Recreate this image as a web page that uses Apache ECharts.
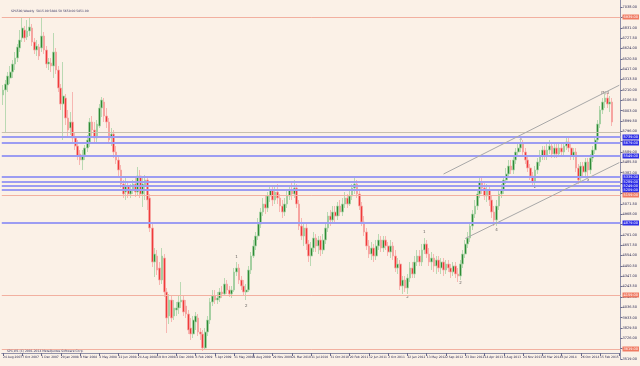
<!DOCTYPE html>
<html><head><meta charset="utf-8">
<script src="https://cdn.jsdelivr.net/npm/echarts@6/dist/echarts.min.js"></script>
<style>html,body{margin:0;padding:0;background:#fbf1e7}#c{width:640px;height:366px}</style>
</head><body><div id="c"></div>
<script>
const dateLabels = ["24 Aug 2007","7 Oct 2007","1 Dec 2007","20 Jan 2008","9 Mar 2008","4 May 2008","22 Jun 2008","24 Aug 2008","19 Oct 2008","4 Dec 2008","8 Feb 2009","5 Apr 2009","31 May 2009","9 Aug 2009","29 Nov 2009","21 Mar 2010","11 Jul 2010","31 Oct 2010","20 Feb 2011","12 Jun 2011","2 Oct 2011","22 Jan 2012","13 May 2012","2 Sep 2012","23 Dec 2012","14 Apr 2013","4 Aug 2013","24 Nov 2013","16 Mar 2014","6 Jul 2014","26 Oct 2014","15 Feb 2015"];
const barsPerLabel = 8;
const totalSlots = 257;

const open = [
6159,6209,6259,6329,6389,6469,6529,6629,6729,6809,
6739,6799,6829,6689,6609,6639,6629,6749,6609,6469,
6479,6449,6589,6409,6229,6069,6129,5929,5829,5889,
5729,5649,5569,5509,5559,5629,5689,5889,5809,5729,
5849,6029,6089,5949,5889,5729,5769,5589,5509,5409,
5269,5189,5249,5169,5209,5269,5189,5349,5169,5249,
5309,5129,4829,4489,4549,4429,4309,4529,4189,3949,
4109,3949,4009,4029,4089,4109,4049,3969,3829,3769,
3889,3929,3789,3769,3629,3789,3909,4089,4149,4109,
4129,4189,4169,4269,4209,4169,4209,4389,4429,4309,
4249,4189,4209,4409,4549,4649,4749,4869,4989,5069,
5029,5149,5209,5109,5189,5129,5049,4989,5069,5149,
5209,5169,5229,5069,4849,4749,4829,4669,4549,4629,
4729,4649,4709,4609,4709,4829,4949,4909,4989,4949,
5049,4989,5069,5129,5069,5149,5229,5269,5169,5049,
4889,4789,4649,4569,4629,4549,4649,4709,4629,4709,
4649,4589,4649,4549,4429,4469,4249,4309,4229,4329,
4429,4369,4489,4549,4489,4609,4669,4569,4489,4529,
4449,4509,4429,4489,4409,4469,4429,4389,4449,4369,
4349,4469,4569,4669,4729,4849,4969,5049,5169,5289,
5229,5149,5209,5109,4989,4909,5049,5169,5209,5309,
5369,5449,5409,5509,5589,5629,5669,5589,5509,5429,
5349,5289,5409,5489,5549,5609,5549,5609,5649,5569,
5629,5569,5629,5589,5649,5689,5629,5549,5589,5429,
5329,5449,5389,5489,5409,5529,5609,5709,5869,6009,
6089,6129,6069,6089];
const close = [
6209,6269,6349,6389,6469,6529,6639,6709,6829,6729,
6799,6839,6689,6609,6649,6549,6749,6609,6469,6489,
6449,6589,6409,6229,6069,6149,5929,5809,5889,5729,
5649,5549,5509,5559,5629,5709,5889,5809,5729,5869,
6029,6109,5949,5889,5709,5769,5589,5509,5409,5269,
5169,5249,5169,5209,5269,5189,5349,5169,5269,5309,
5109,4829,4489,4569,4409,4309,4549,4189,3929,4109,
3929,4029,4029,4089,4109,3989,3969,3809,3769,3909,
3949,3789,3769,3629,3789,3909,4089,4149,4109,4129,
4189,4169,4269,4209,4169,4209,4389,4429,4309,4249,
4189,4209,4409,4549,4649,4749,4869,4989,5069,5029,
5149,5209,5109,5189,5129,5049,4989,5069,5149,5209,
5169,5229,5069,4849,4749,4829,4669,4549,4629,4729,
4649,4709,4609,4709,4829,4949,4909,4989,4949,5049,
4989,5069,5129,5069,5149,5229,5269,5169,5049,4889,
4789,4649,4569,4629,4549,4649,4709,4629,4709,4649,
4589,4649,4549,4429,4469,4249,4309,4229,4329,4429,
4369,4489,4549,4489,4609,4669,4569,4489,4529,4449,
4509,4429,4489,4409,4469,4429,4389,4449,4369,4349,
4469,4569,4669,4729,4849,4969,5049,5169,5289,5229,
5149,5209,5109,4989,4909,5049,5169,5209,5309,5369,
5449,5409,5509,5589,5629,5669,5589,5509,5429,5349,
5289,5409,5489,5549,5609,5549,5609,5649,5569,5629,
5569,5629,5589,5649,5689,5629,5549,5589,5429,5309,
5449,5389,5489,5409,5529,5609,5709,5869,6009,6089,
6129,6069,6089,5889];
const low = [
6059,5779,6189,6269,6329,6409,6489,6589,6689,6689,
6709,6749,6649,6569,6549,6509,6589,6569,6429,6409,
6389,6329,6369,6189,6009,5709,5859,5729,5759,5689,
5609,5509,5459,5409,5509,5589,5639,5749,5689,5689,
5829,5939,5889,5829,5669,5649,5529,5469,5349,5229,
5129,5109,5129,5129,5169,5139,5149,5129,5039,5109,
5009,4789,4439,4339,4359,4259,4269,4139,3779,3869,
3889,3909,3949,3969,4029,3949,3929,3769,3709,3729,
3809,3749,3709,3599,3609,3749,3869,4049,4069,4069,
4089,4129,4149,4169,4139,4129,4189,4349,4269,4209,
4149,4109,4189,4369,4529,4609,4709,4829,4949,4969,
4989,5089,5049,5069,5069,4989,4929,4949,5029,5109,
5109,5129,5029,4809,4709,4649,4609,4489,4449,4589,
4589,4569,4549,4569,4669,4789,4849,4869,4889,4909,
4949,4949,5029,5029,5049,5109,5169,5129,5009,4849,
4749,4609,4529,4509,4489,4509,4609,4589,4589,4609,
4549,4529,4509,4389,4369,4209,4169,4189,4169,4289,
4329,4329,4449,4449,4449,4569,4529,4449,4409,4389,
4369,4389,4369,4349,4369,4389,4329,4349,4329,4289,
4309,4429,4529,4629,4689,4809,4929,5009,5129,5169,
5109,5089,5049,4929,4849,4849,5009,5129,5169,5269,
5329,5369,5369,5469,5549,5589,5549,5469,5389,5309,
5249,5249,5369,5449,5509,5509,5509,5569,5529,5529,
5529,5549,5549,5549,5609,5589,5509,5509,5389,5269,
5289,5349,5349,5329,5369,5489,5569,5669,5829,5969,
6029,6029,5989,5849];
const high = [
6259,6309,6389,6449,6509,6589,6669,6809,6939,6849,
6909,6929,6869,6729,6709,6669,6929,6789,6649,6529,
6529,6779,6629,6449,6269,6489,6169,6009,5989,6189,
5789,5709,5609,5609,5659,5759,5929,5949,5889,5909,
6069,6139,6129,6029,5929,5829,5809,5649,5559,5459,
5309,5329,5289,5269,5309,5329,5439,5409,5349,5359,
5349,5169,4869,4629,4609,4489,4629,4569,4229,4169,
4149,4109,4089,4149,4289,4149,4109,4009,3929,3949,
3989,3969,3829,3809,3829,3949,4129,4209,4209,4189,
4229,4249,4329,4309,4249,4249,4429,4489,4469,4349,
4309,4269,4449,4589,4709,4789,4929,5029,5129,5149,
5189,5259,5249,5249,5269,5169,5109,5129,5209,5249,
5289,5309,5269,5109,4929,4889,4869,4709,4689,4789,
4769,4749,4749,4769,4889,4989,5009,5049,5049,5089,
5109,5129,5189,5169,5209,5269,5329,5309,5209,5089,
4949,4829,4709,4689,4669,4709,4769,4749,4749,4749,
4689,4709,4689,4609,4529,4509,4349,4349,4369,4489,
4489,4549,4609,4609,4669,4729,4709,4629,4589,4569,
4549,4549,4529,4529,4509,4509,4469,4489,4489,4429,
4509,4609,4709,4789,4889,5009,5109,5209,5349,5349,
5289,5269,5249,5149,5049,5109,5209,5269,5349,5429,
5509,5509,5549,5629,5689,5709,5709,5629,5549,5469,
5389,5449,5529,5609,5649,5649,5669,5709,5689,5669,
5669,5689,5669,5689,5729,5729,5669,5629,5629,5469,
5489,5489,5529,5529,5569,5649,5749,5909,6049,6129,
6169,6179,6149,6129];

const blueLevels = [5739,5679,5549,5339,5289,5249,5209,4879];
const redLevels = [6939,5159,4159,3619];
const grayLevels = [5789];
const upperTrend = [[183,5369],[256,6257]];
const lowerTrend = [[192,4724],[256,5483]];
const waveIdx  = [97,101,168,175,190,205,215,221,243,250];
const waveVal  = [4539,4049,4139,4789,4279,4809,5719,5239,5299,6179];
const waveText = ['1','2','2','1','2','4','3','2','4','(5)3'];

const titleText = 'SPX500,Weekly  5815.00 5888.50 5650.00 5851.00';
const footerText = 'SPX,W1 (C) 2001-2014 MetaQuotes Software Corp.';

const categories = [];
for (let i = 0; i < totalSlots; i++) {
  categories.push(i % barsPerLabel === 0 && dateLabels[i / barsPerLabel] ? dateLabels[i / barsPerLabel] : '');
}
const ohlc = open.map((o, i) => [o, close[i], low[i], high[i]]);

const FONT = 'DejaVu Sans';
const lvlLine = (v, color, bg, withLabel) => ({
  yAxis: v,
  lineStyle: {color: color, width: 2, type: 'solid'},
  label: withLabel ? {show: true, position: 'end', distance: 2, formatter: v.toFixed(2),
    backgroundColor: bg, color: '#ffffff', fontSize: 3.5, lineHeight: 4, padding: [0.5, 1, 0.5, 1], fontFamily: FONT} : {show: false}
});
const markData = [];
blueLevels.forEach(v => markData.push(lvlLine(v, '#9c9cf2', '#2d2de6', true)));
redLevels.forEach(v => { const d = lvlLine(v, '#f2b0a0', '#f07a62', true); d.lineStyle.width = 1; markData.push(d); });
grayLevels.forEach(v => { const d = lvlLine(v, '#c8c0b0', null, false); d.lineStyle.width = 1; markData.push(d); });
[upperTrend, lowerTrend].forEach(t => markData.push([
  {coord: t[0], lineStyle: {color: '#a8a8a8', width: 1, type: 'solid'}, label: {show: false}},
  {coord: t[1]}
]));

const chart = echarts.init(document.getElementById('c'), null, {renderer: 'canvas'});
chart.setOption({
  backgroundColor: '#fbf1e7',
  animation: false,
  title: [
    {text: titleText, left: 6, top: 5, textStyle: {fontSize: 3, fontWeight: 'normal', color: '#3a3a66', fontFamily: FONT}},
    {text: footerText, left: 2, top: 345, textStyle: {fontSize: 3, fontWeight: 'normal', color: '#3a3a66', fontFamily: FONT}}
  ],
  grid: {left: 0, right: 14, top: 0, bottom: 7},
  xAxis: {
    type: 'category', data: categories, boundaryGap: true, offset: -6,
    axisLine: {lineStyle: {color: '#9090a8', width: 1}},
    axisTick: {show: true, alignWithLabel: true, interval: barsPerLabel - 1, length: 3, lineStyle: {color: '#6a6a8a'}},
    axisLabel: {interval: barsPerLabel - 1, align: 'left', fontSize: 3, color: '#2a2a55', margin: 3, fontFamily: FONT},
    splitLine: {show: false}
  },
  yAxis: {
    type: 'value', position: 'right', min: 3519, max: 7109, interval: 103.5, scale: true,
    axisLine: {show: true, lineStyle: {color: '#9090a8'}},
    axisTick: {show: true, length: 2, lineStyle: {color: '#6a6a8a'}},
    axisLabel: {fontSize: 3.5, color: '#2a2a55', margin: 2, showMaxLabel: false, formatter: v => v.toFixed(2), fontFamily: FONT},
    splitLine: {show: false}
  },
  series: [
    {
      type: 'candlestick', data: ohlc, barWidth: 2.2,
      itemStyle: {color: '#2e8b35', color0: '#f03a3a', borderColor: '#a9d3a6', borderColor0: '#f6a8a4', borderWidth: 0.8},
      markLine: {silent: true, symbol: ['none', 'none'], animation: false, data: markData}
    },
    {
      type: 'scatter', symbolSize: 0, silent: true,
      data: waveIdx.map((x, i) => [x, waveVal[i], waveText[i]]),
      label: {show: true, position: 'inside', formatter: p => p.data[2], fontSize: 4, color: '#3a3a3a', fontFamily: FONT}
    }
  ]
});
</script></body></html>
